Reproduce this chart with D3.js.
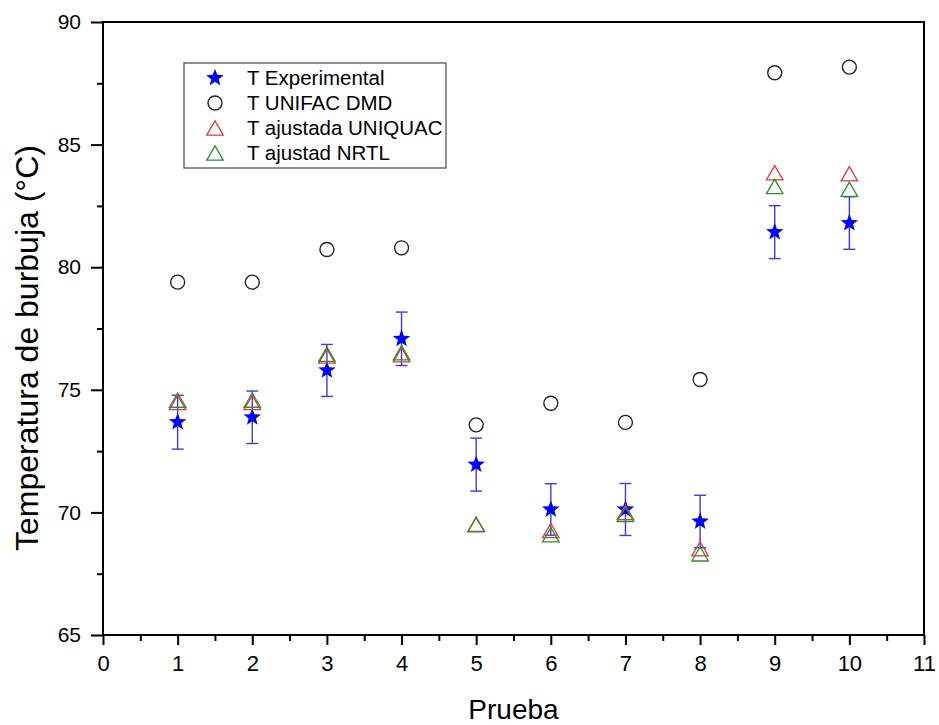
<!DOCTYPE html>
<html>
<head>
<meta charset="utf-8">
<script src="https://cdn.jsdelivr.net/npm/d3@7"></script>
<style>
  html, body { margin: 0; padding: 0; background: #fff; }
  svg { display: block; font-family: "Liberation Sans", Arial, sans-serif; }
</style>
</head>
<body>
<svg id="chart" width="939" height="725"></svg>
<script>
// ---- data ----
const pruebas = [1, 2, 3, 4, 5, 6, 7, 8, 9, 10];
const tExperimental = [73.68, 73.88, 75.79, 77.08, 71.95, 70.12, 70.12, 69.63, 81.43, 81.80];
const tExpError = [1.10, 1.07, 1.06, 1.09, 1.08, 1.05, 1.06, 1.07, 1.08, 1.07];
const tUnifacDmd = [79.39, 79.39, 80.72, 80.79, 73.57, 74.45, 73.67, 75.42, 87.93, 88.16];
const tUniquac = [74.48, 74.48, 76.38, 76.43, 69.50, 69.26, 70.00, 68.52, 83.85, 83.81];
const tNrtl = [74.58, 74.58, 76.45, 76.51, 69.52, 69.09, 69.92, 68.31, 83.29, 83.18];
const xTicks = [0, 1, 2, 3, 4, 5, 6, 7, 8, 9, 10, 11];
const xMinorTicks = [0.5, 1.5, 2.5, 3.5, 4.5, 5.5, 6.5, 7.5, 8.5, 9.5, 10.5];
const yTicks = [65, 70, 75, 80, 85, 90];
const yMinorTicks = [67.5, 72.5, 77.5, 82.5, 87.5];
const legendLabels = ["T Experimental", "T UNIFAC DMD", "T ajustada UNIQUAC", "T ajustad NRTL"];

// ---- layout ----
const svg = d3.select("#chart");
const L = 103, R = 924, T = 22, B = 635;
const x = d3.scaleLinear().domain([0, 11]).range([L, R]);
const y = d3.scaleLinear().domain([65, 90]).range([B, T]);

const colStar = "#0000ff", colErr = "#3c3ce0", colCirc = "#222222",
      colRed = "#e2393c", colGreen = "#2f8f2f";

function starPath(r) {
  const inner = r * 0.42;
  const pts = [];
  for (let i = 0; i < 10; i++) {
    const a = -Math.PI / 2 + i * Math.PI / 5;
    const rr = i % 2 === 0 ? r : inner;
    pts.push([rr * Math.cos(a), rr * Math.sin(a)]);
  }
  return "M" + pts.map(p => p.join(",")).join("L") + "Z";
}
function triPath(s) {
  const h = s * Math.sqrt(3) / 2;
  return `M0,${-h / 2}L${s / 2},${h / 2}L${-s / 2},${h / 2}Z`;
}

// ---- axes ----
const xAxis = d3.axisBottom(x).tickValues(xTicks).tickSize(10).tickPadding(10).tickFormat(d3.format("d"));
const gx = svg.append("g").attr("transform", `translate(0,${B})`).call(xAxis);
gx.select(".domain").remove();
gx.selectAll(".tick line").attr("stroke", "#000").attr("stroke-width", 2);
gx.selectAll(".tick text").attr("font-size", 22).attr("fill", "#000")
  .attr("font-family", '"Liberation Sans", Arial, sans-serif');

const xMinor = d3.axisBottom(x).tickValues(xMinorTicks).tickSize(6).tickFormat("");
const gxm = svg.append("g").attr("transform", `translate(0,${B})`).call(xMinor);
gxm.select(".domain").remove();
gxm.selectAll(".tick line").attr("stroke", "#000").attr("stroke-width", 2);

const yAxis = d3.axisLeft(y).tickValues(yTicks).tickSize(12).tickPadding(10).tickFormat(d3.format("d"));
const gy = svg.append("g").attr("transform", `translate(${L},0)`).call(yAxis);
gy.select(".domain").remove();
gy.selectAll(".tick line").attr("stroke", "#000").attr("stroke-width", 2);
gy.selectAll(".tick text").attr("font-size", 21).attr("fill", "#000")
  .attr("font-family", '"Liberation Sans", Arial, sans-serif');

const yMinor = d3.axisLeft(y).tickValues(yMinorTicks).tickSize(6).tickFormat("");
const gym = svg.append("g").attr("transform", `translate(${L},0)`).call(yMinor);
gym.select(".domain").remove();
gym.selectAll(".tick line").attr("stroke", "#000").attr("stroke-width", 2);

// frame
svg.append("rect").attr("x", L).attr("y", T).attr("width", R - L).attr("height", B - T)
  .attr("fill", "none").attr("stroke", "#000").attr("stroke-width", 2);

// axis titles
svg.append("text").attr("x", (L + R) / 2).attr("y", 719).attr("text-anchor", "middle")
  .attr("font-size", 28).attr("fill", "#000").text("Prueba");
svg.append("text").attr("transform", `translate(38,348) rotate(-90)`).attr("text-anchor", "middle")
  .attr("font-size", 32).attr("fill", "#000").text("Temperatura de burbuja (°C)");

// ---- marks ----
const gErr = svg.append("g").attr("stroke", colErr).attr("stroke-width", 1.4).attr("fill", "none");
pruebas.forEach((p, i) => {
  const cx = x(p), y1 = y(tExperimental[i] + tExpError[i]), y2 = y(tExperimental[i] - tExpError[i]);
  gErr.append("line").attr("x1", cx).attr("x2", cx).attr("y1", y1).attr("y2", y2);
  gErr.append("line").attr("x1", cx - 6).attr("x2", cx + 6).attr("y1", y1).attr("y2", y1);
  gErr.append("line").attr("x1", cx - 6).attr("x2", cx + 6).attr("y1", y2).attr("y2", y2);
});

svg.append("g").selectAll("path").data(pruebas).join("path")
  .attr("d", starPath(9.2))
  .attr("transform", (d, i) => `translate(${x(d)},${y(tExperimental[i])})`)
  .attr("fill", colStar);

svg.append("g").selectAll("circle").data(pruebas).join("circle")
  .attr("cx", d => x(d)).attr("cy", (d, i) => y(tUnifacDmd[i])).attr("r", 7)
  .attr("fill", "none").attr("stroke", colCirc).attr("stroke-width", 1.4);

svg.append("g").selectAll("path").data(pruebas).join("path")
  .attr("d", triPath(16.5))
  .attr("transform", (d, i) => `translate(${x(d)},${y(tUniquac[i])})`)
  .attr("fill", "none").attr("stroke", colRed).attr("stroke-width", 1.3);

svg.append("g").selectAll("path").data(pruebas).join("path")
  .attr("d", triPath(16.5))
  .attr("transform", (d, i) => `translate(${x(d)},${y(tNrtl[i])})`)
  .attr("fill", "none").attr("stroke", colGreen).attr("stroke-width", 1.3);

// ---- legend ----
const lg = svg.append("g");
lg.append("rect").attr("x", 184).attr("y", 63).attr("width", 262).attr("height", 105)
  .attr("fill", "#fff").attr("stroke", "#555").attr("stroke-width", 1.3);
const rows = [78, 103, 128, 153];
const lx = 215;
lg.append("path").attr("d", starPath(9.2)).attr("transform", `translate(${lx},${rows[0]})`).attr("fill", colStar);
lg.append("circle").attr("cx", lx).attr("cy", rows[1]).attr("r", 7).attr("fill", "none")
  .attr("stroke", colCirc).attr("stroke-width", 1.4);
lg.append("path").attr("d", triPath(16.5)).attr("transform", `translate(${lx},${rows[2]})`)
  .attr("fill", "none").attr("stroke", colRed).attr("stroke-width", 1.3);
lg.append("path").attr("d", triPath(16.5)).attr("transform", `translate(${lx},${rows[3]})`)
  .attr("fill", "none").attr("stroke", colGreen).attr("stroke-width", 1.3);
legendLabels.forEach((t, i) => {
  lg.append("text").attr("x", 247).attr("y", rows[i] + 7).attr("font-size", 20.5)
    .attr("fill", "#000").text(t);
});
</script>
</body>
</html>
